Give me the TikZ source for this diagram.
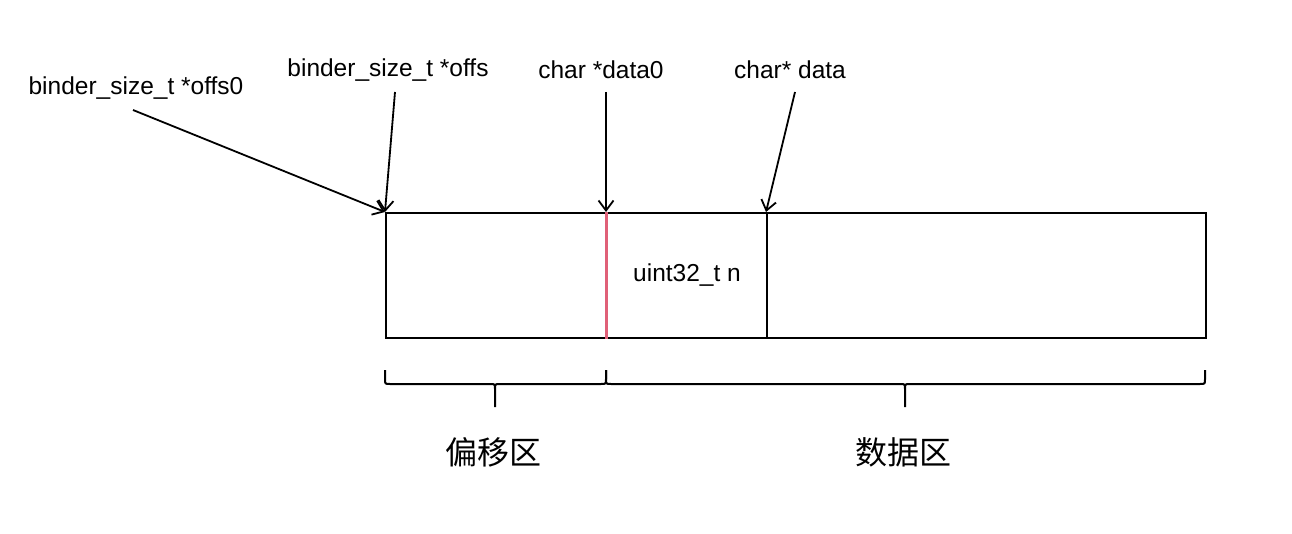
\documentclass[tikz,border=0pt]{standalone}
\usepackage{fontspec}
\setmainfont{Liberation Sans}
\newfontfamily\cjk{Noto Sans CJK SC}
\usetikzlibrary{arrows.meta}
\definecolor{redline}{RGB}{224,96,120}
\begin{document}
\begin{tikzpicture}[x=1pt,y=-1pt,
  cell/.style={draw, line width=2pt, minimum height=125pt, inner sep=0pt, anchor=north west, font=\fontsize{24.5}{28}\selectfont},
  lbl/.style={inner sep=0pt, font=\fontsize{24.5}{28}\selectfont},
  zone/.style={inner sep=0pt, font=\cjk\fontsize{32}{38}\selectfont},
  ptr/.style={line width=1.8pt, -{Straight Barb[length=10pt,width=15pt,line width=1.8pt]}},
  bracepath/.style={line width=2pt, line join=round}]
\useasboundingbox (0,0) rectangle (1292,534);
\node[cell, minimum width=221pt] (cellA) at (385,212) {};
\node[cell, minimum width=160pt] (cellB) at (606,212) {uint32\_t n};
\node[cell, minimum width=439pt] (cellC) at (766,212) {};
\draw[color=redline, line width=3pt] (cellB.north west) -- (cellB.south west);

\node[lbl] (l1) at (136,88) {binder\_size\_t *offs0};
\node[lbl] (l2) at (388,70) {binder\_size\_t *offs};
\node[lbl] (l3) at (601,70) {char *data0};
\node[lbl] (l4) at (790,70) {char* data};

\coordinate (s1) at (133,110);
\coordinate (s2) at (395,92);
\coordinate (s3) at (606,92);
\coordinate (s4) at (795,92);
\draw[ptr] (s1) -- (cellA.north west);
\draw[ptr] (s2) -- (cellA.north west);
\draw[ptr] (s3) -- (cellB.north west);
\draw[ptr] (s4) -- (cellC.north west);

\draw[bracepath] (385,370) -- (385,379) .. controls (385,384) .. (390,384) -- (490,384)
  .. controls (495,384) .. (495,389) -- (495,407)
  (495,389) .. controls (495,384) .. (500,384) -- (601,384)
  .. controls (606,384) .. (606,379) -- (606,370);
\draw[bracepath] (606,370) -- (606,379) .. controls (606,384) .. (611,384) -- (900,384)
  .. controls (905,384) .. (905,389) -- (905,407)
  (905,389) .. controls (905,384) .. (910,384) -- (1200,384)
  .. controls (1205,384) .. (1205,379) -- (1205,370);

\node[zone] (z1) at (493,452) {偏移区};
\node[zone] (z2) at (903,452) {数据区};
\end{tikzpicture}
\end{document}
